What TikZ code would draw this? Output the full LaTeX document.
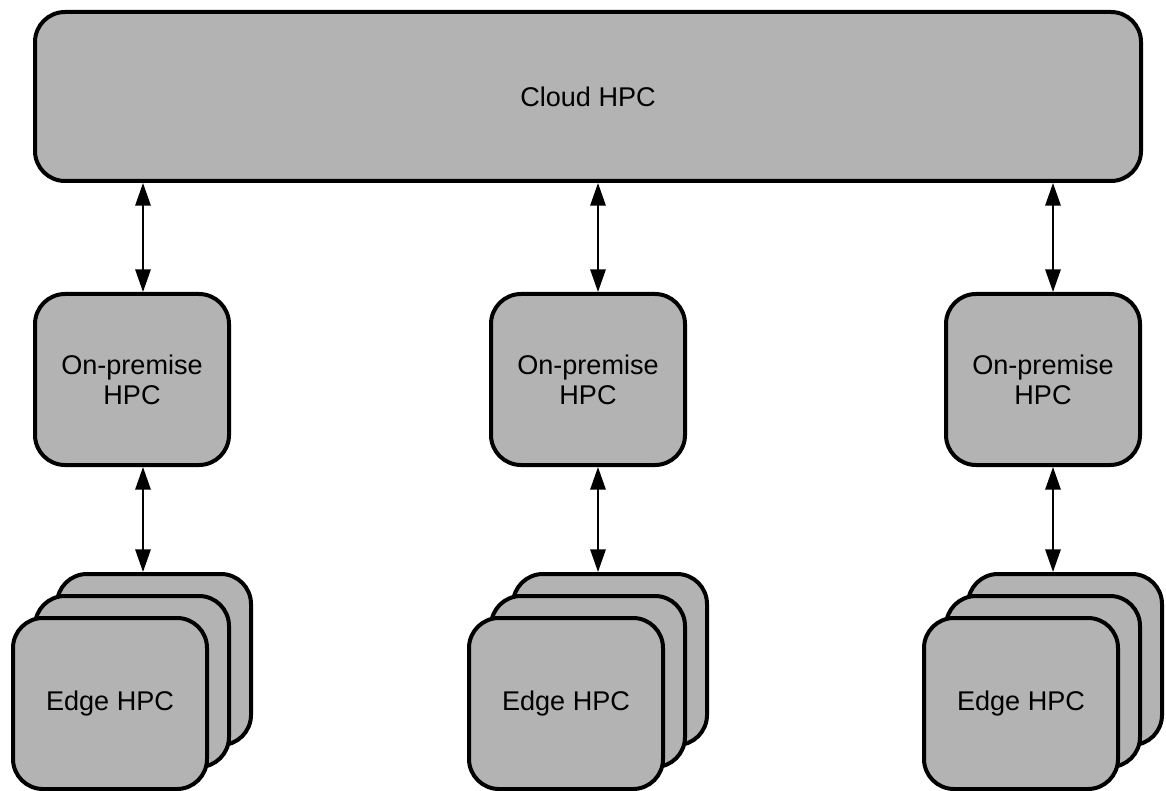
\documentclass[tikz,border=0pt]{standalone}
\usepackage{fontspec}
\setmainfont{Liberation Sans}
\usetikzlibrary{arrows.meta}
\definecolor{boxgray}{RGB}{179,179,179}
\begin{document}
\begin{tikzpicture}[x=0.75pt,y=-0.75pt,
  hpc/.style={draw=black, fill=boxgray, line width=3pt, rounded corners=22.5pt,
    minimum width=145.5pt, minimum height=128.25pt, inner sep=0pt, align=center,
    font=\fontsize{20.3}{22.5}\selectfont},
  cloudbox/.style={hpc, minimum width=829.5pt, minimum height=126.75pt},
  link/.style={line width=1.5pt, {Triangle[length=17pt,width=11.5pt]}-{Triangle[length=17pt,width=11.5pt]}}]
  \useasboundingbox (0,0) rectangle (1166,791);

  % top tier
  \node[cloudbox] (cloud) at (588,96.5) {Cloud HPC};

  % middle tier
  \node[hpc] (op1) at (132,379.5) {On-premise\\HPC};
  \node[hpc] (op2) at (588,379.5) {On-premise\\HPC};
  \node[hpc] (op3) at (1043,379.5) {On-premise\\HPC};

  % edge stacks: back, middle, front
  \foreach \n/\cx in {1/132, 2/588, 3/1043} {
    \node[hpc] (e\n b) at (\cx+22,659.5) {};
    \node[hpc] (e\n m) at (\cx,681.5) {};
    \node[hpc] (e\n f) at (\cx-22,703.5) {Edge HPC};
  }

  % connector columns
  \coordinate (a1) at (143,0);
  \coordinate (a2) at (598,0);
  \coordinate (a3) at (1053,0);

  \foreach \n in {1,2,3} {
    \draw[link] (cloud.south -| a\n) -- (op\n.north -| a\n);
    \draw[link] (op\n.south -| a\n) -- (e\n b.north -| a\n);
  }
\end{tikzpicture}
\end{document}
